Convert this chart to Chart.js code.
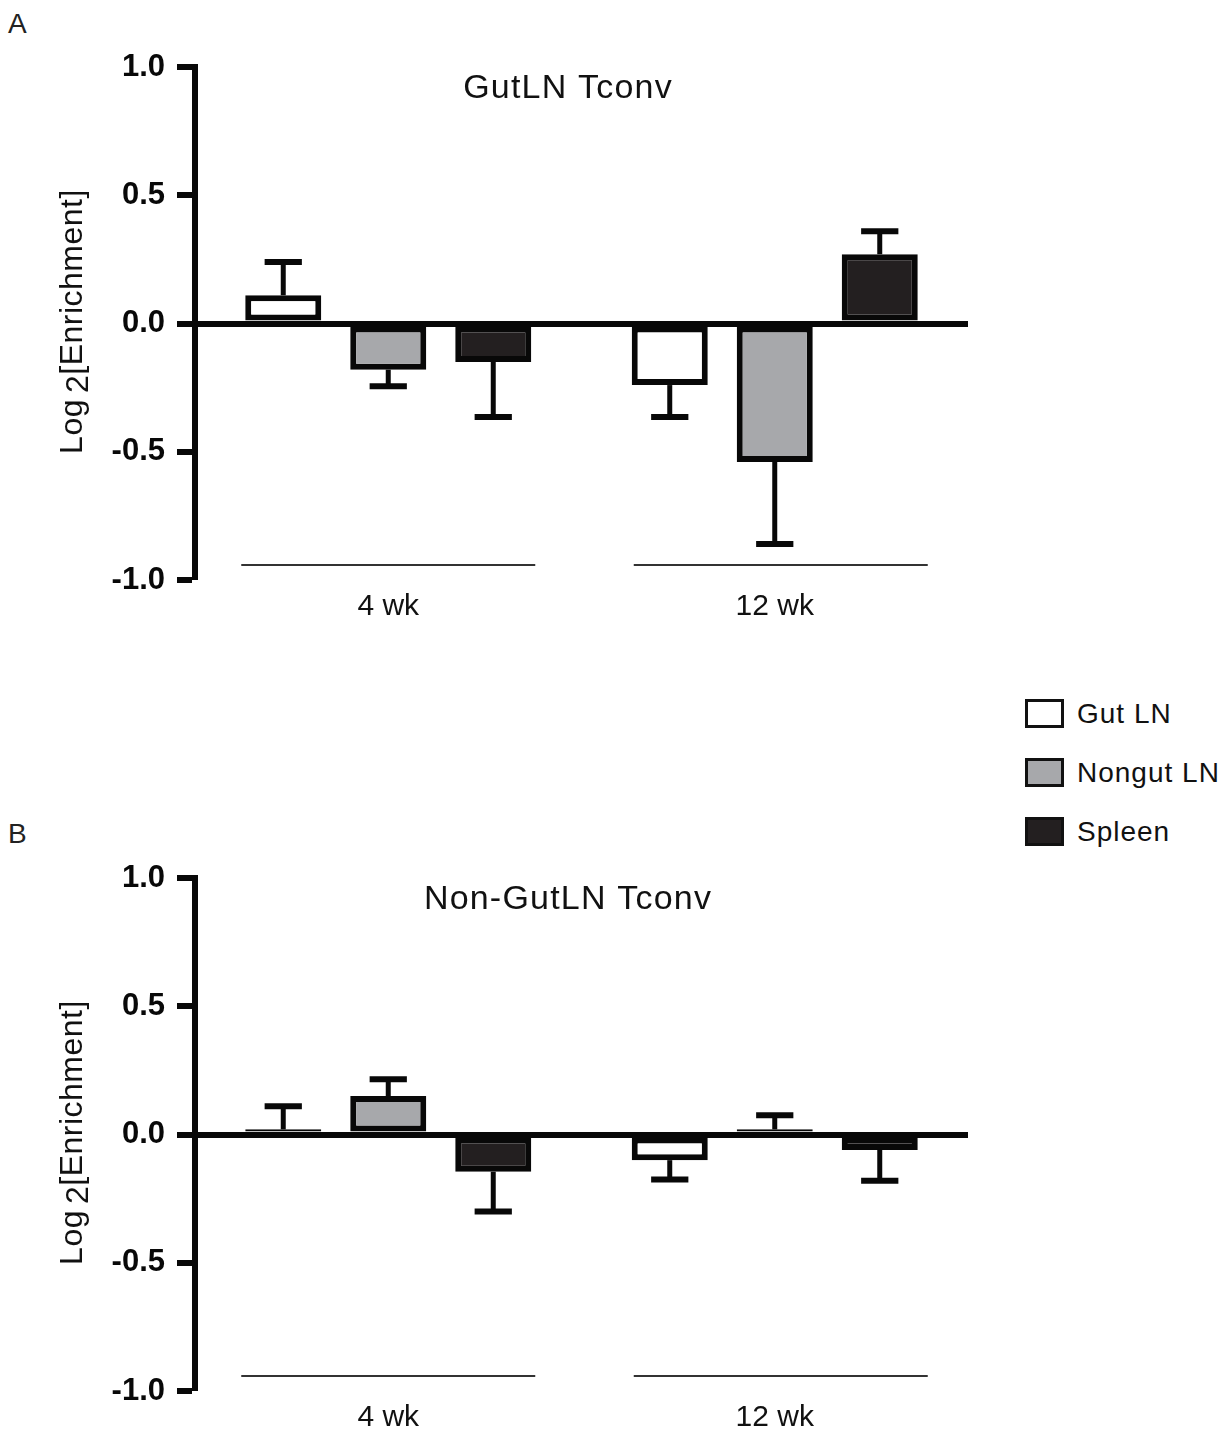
<!DOCTYPE html>
<html>
<head>
<meta charset="utf-8">
<script src="https://cdn.jsdelivr.net/npm/chart.js@4.4.1/dist/chart.umd.min.js"></script>
<style>
  body { margin: 0; background: #fff; font-family: "Liberation Sans", Arial, sans-serif; }
  .panel { position: absolute; left: 0; width: 1000px; height: 625px; }
  .tag { position: absolute; left: 8px; font-size: 28px; color: #222; }
  #legend { position: absolute; left: 1025px; top: 684px; }
  .item { display: flex; align-items: center; height: 59px; }
  .box { width: 33px; height: 23px; border: 3px solid #111; margin-right: 13px; }
  .item span { font-size: 28px; letter-spacing: 1px; color: #111; }
</style>
</head>
<body>
<div class="tag" style="top:8px">A</div>
<div class="panel" style="top:0"><canvas id="chartA"></canvas></div>
<div class="tag" style="top:818px">B</div>
<div class="panel" style="top:811px"><canvas id="chartB"></canvas></div>
<div id="legend"></div>
<script>
//------------------------- data -------------------------
const groups = ['4 wk', '12 wk'];
const seriesNames = ['Gut LN', 'Nongut LN', 'Spleen'];
const seriesColors = ['#ffffff', '#a7a8ab', '#231f20'];
const yTicks = [-1.0, -0.5, 0.0, 0.5, 1.0];

// A: GutLN Tconv (mean, error)
const gutA = [0.11, -0.24];
const nongutA = [-0.18, -0.54];
const spleenA = [-0.15, 0.27];
const gutErrA = [0.13, 0.125];
const nongutErrA = [0.065, 0.32];
const spleenErrA = [0.215, 0.09];

// B: Non-GutLN Tconv (mean, error)
const gutB = [0.02, -0.10];
const nongutB = [0.15, 0.02];
const spleenB = [-0.145, -0.06];
const gutErrB = [0.09, 0.075];
const nongutErrB = [0.065, 0.055];
const spleenErrB = [0.155, 0.12];

const FONT = '"Liberation Sans", Arial, sans-serif';

//------------------------- plugins -------------------------
// one sided error bars, away from zero
const errorBars = {
    id: 'errorBars',
    afterDatasetsDraw(chart) {
        const ctx = chart.ctx, y = chart.scales.y;
        ctx.save();
        ctx.strokeStyle = '#080808';
        chart.data.datasets.forEach((ds, i) => {
            chart.getDatasetMeta(i).data.forEach((bar, j) => {
                const v = ds.data[j], e = ds.errors[j];
                const end = v >= 0 ? v + e : v - e;
                const y0 = y.getPixelForValue(v), y1 = y.getPixelForValue(end);
                const half = bar.width * 0.245;
                ctx.lineWidth = 5;
                ctx.beginPath();
                ctx.moveTo(bar.x, y0);
                ctx.lineTo(bar.x, y1);
                ctx.stroke();
                ctx.lineWidth = 6;
                ctx.beginPath();
                ctx.moveTo(bar.x - half, y1);
                ctx.lineTo(bar.x + half, y1);
                ctx.stroke();
            });
        });
        ctx.restore();
    }
};

// group lines, panel title and y title
const decor = {
    id: 'decor',
    afterDraw(chart, args, opts) {
        const ctx = chart.ctx, x = chart.scales.x, y = chart.scales.y, area = chart.chartArea;
        ctx.save();
        // group lines
        ctx.strokeStyle = '#333';
        ctx.lineWidth = 2;
        const ly = y.getPixelForValue(-1) - 15;
        groups.forEach((g, i) => {
            const cx = x.getPixelForValue(i) + i * 6;
            ctx.beginPath();
            ctx.moveTo(cx - 147, ly);
            ctx.lineTo(cx + 147, ly);
            ctx.stroke();
        });
        // title
        ctx.fillStyle = '#111';
        ctx.font = '34px ' + FONT;
        ctx.letterSpacing = '1.2px';
        ctx.textAlign = 'center';
        ctx.textBaseline = 'middle';
        ctx.fillText(opts.title, 568, area.top + 22);
        // y title with subscript 2
        ctx.letterSpacing = '0.5px';
        ctx.font = '32px ' + FONT;
        ctx.translate(73, (area.top + area.bottom) / 2 - 2);
        ctx.rotate(-Math.PI / 2);
        const a = 'Log', b = '2', c = '[Enrichment]';
        const wa = ctx.measureText(a).width, wb = ctx.measureText(b).width, wc = ctx.measureText(c).width;
        const gap = 6;
        let sx = -(wa + gap + wb + wc) / 2;
        ctx.textAlign = 'left';
        ctx.fillText(a, sx, 0);
        ctx.fillText(b, sx + wa + gap, 6);
        ctx.fillText(c, sx + wa + gap + wb, 0);
        ctx.restore();
    }
};

//------------------------- charts -------------------------
function makeChart(id, title, vals, errs) {
    const datasets = seriesNames.map((name, k) => ({
        label: name,
        data: vals[k],
        errors: errs[k],
        backgroundColor: seriesColors[k],
        borderColor: '#080808',
        borderWidth: 6,
        borderSkipped: false,
        categoryPercentage: 0.815,
        barPercentage: 0.724
    }));
    return new Chart(document.getElementById(id), {
        type: 'bar',
        data: { labels: groups, datasets: datasets },
        options: {
            responsive: true,
            maintainAspectRatio: false,
            animation: false,
            layout: { padding: { top: 67, right: 32, left: 0, bottom: 0 } },
            plugins: {
                legend: { display: false },
                tooltip: { enabled: false },
                decor: { title: title }
            },
            scales: {
                x: {
                    grid: { display: false, drawTicks: false },
                    border: { display: false },
                    ticks: { font: { family: FONT, size: 30 }, color: '#111', padding: 9 },
                    afterFit: s => { s.height = 45; }
                },
                y: {
                    min: -1,
                    max: 1,
                    afterBuildTicks: s => { s.ticks = yTicks.map(v => ({ value: v })); },
                    ticks: {
                        font: { family: FONT, size: 31, weight: 'bold' },
                        color: '#080808',
                        padding: 12,
                        callback: v => v.toFixed(1)
                    },
                    grid: {
                        drawOnChartArea: true,
                        color: c => c.tick && c.tick.value === 0 ? '#080808' : 'rgba(0,0,0,0)',
                        lineWidth: c => c.tick && c.tick.value === 0 ? 6 : 0,
                        tickColor: '#080808',
                        tickWidth: 6,
                        tickLength: 18
                    },
                    border: { display: true, color: '#080808', width: 6 },
                    afterFit: s => { s.width = 195; }
                }
            }
        },
        plugins: [errorBars, decor]
    });
}

makeChart('chartA', 'GutLN Tconv', [gutA, nongutA, spleenA], [gutErrA, nongutErrA, spleenErrA]);
makeChart('chartB', 'Non-GutLN Tconv', [gutB, nongutB, spleenB], [gutErrB, nongutErrB, spleenErrB]);

// legend
const legend = document.getElementById('legend');
seriesNames.forEach((name, k) => {
    const row = document.createElement('div');
    row.className = 'item';
    row.innerHTML = '<div class="box" style="background:' + seriesColors[k] + '"></div><span>' + name + '</span>';
    legend.appendChild(row);
});
</script>
</body>
</html>
